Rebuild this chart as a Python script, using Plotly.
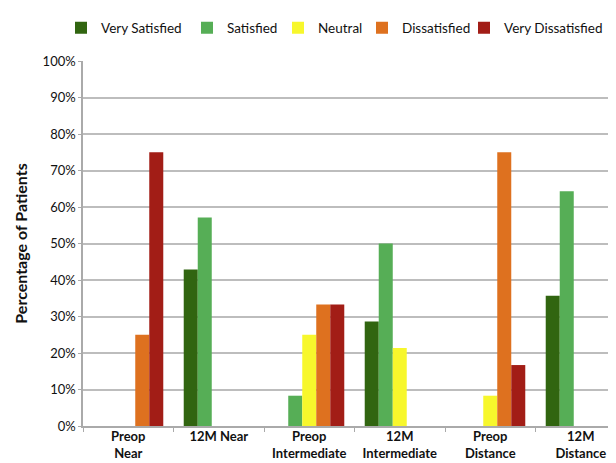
import plotly.graph_objects as go

categories = ["Preop<br>Near", "12M Near", "Preop<br>Intermediate", "12M<br>Intermediate", "Preop<br>Distance", "12M<br>Distance"]
very_satisfied = [0, 42.9, 0, 28.6, 0, 35.7]
satisfied = [0, 57.1, 8.3, 50.0, 0, 64.3]
neutral = [0, 0, 25.0, 21.4, 8.3, 0]
dissatisfied = [25.0, 0, 33.3, 0, 75.0, 0]
very_dissatisfied = [75.0, 0, 33.3, 0, 16.7, 0]
y_ticks = [0, 10, 20, 30, 40, 50, 60, 70, 80, 90, 100]
y_tick_labels = [f"{v}%" for v in y_ticks]

series = [
    ("Very Satisfied", very_satisfied, "#316510"),
    ("Satisfied", satisfied, "#56ae56"),
    ("Neutral", neutral, "#f7f72c"),
    ("Dissatisfied", dissatisfied, "#de711f"),
    ("Very Dissatisfied", very_dissatisfied, "#a21d16"),
]

FONT = "Lato"
W, H = 616, 463
ml, mr, mt, mb = 75, 0, 53, 45
pw = W - ml - mr
ph = H - mt - mb
cat_w = 90.5
x_range = [-0.5, -0.5 + pw / cat_w]

text_starts = [93, 219, 310, 394, 496]

fig = go.Figure()
layout_legends = {}
for i, (name, vals, col) in enumerate(series):
    lname = "legend" if i == 0 else f"legend{i+1}"
    fig.add_trace(go.Bar(x=list(range(len(categories))), y=vals, name=name, marker_color=col,
                         marker_line_width=0, legend=lname))
    layout_legends[lname] = dict(
        x=(text_starts[i] - 40 - ml) / pw, xanchor="left",
        y=1 + 33 / ph, yanchor="middle",
        font=dict(family=FONT, size=13.5, color="#111"),
        bgcolor="rgba(0,0,0,0)", borderwidth=0,
        itemwidth=30, tracegroupgap=0,
    )

fig.update_layout(
    width=W, height=H,
    margin=dict(l=ml, r=mr, t=mt, b=mb, pad=0),
    paper_bgcolor="white", plot_bgcolor="white",
    barmode="group", bargap=0.226, bargroupgap=0,
    font=dict(family=FONT, color="#111"),
    showlegend=True,
    **layout_legends,
)
fig.update_xaxes(
    range=x_range, tickmode="array", tickvals=list(range(len(categories))), ticktext=categories,
    showline=True, linecolor="#aaaaaa", linewidth=1.5,
    ticks="", showgrid=False, zeroline=False,
    tickfont=dict(family=FONT, size=13, color="#111", weight="bold"),
    ticklabelstandoff=-2,
    minor=dict(tickvals=[i + 0.5 for i in range(-1, len(categories))], ticks="outside",
               ticklen=4, tickcolor="#aaaaaa", showgrid=False),
)
fig.update_yaxes(
    range=[0, 100], tickvals=y_ticks, ticktext=y_tick_labels,
    showline=True, linecolor="#aaaaaa", linewidth=1.5,
    ticks="outside", ticklen=3, tickcolor="#aaaaaa",
    tickfont=dict(family=FONT, size=13, color="#111"),
    showgrid=True, gridcolor="#bdbdbd", gridwidth=1.5,
    title=dict(text="<b>Percentage of Patients</b>", font=dict(family=FONT, size=16, color="#111"), standoff=11),
    zeroline=False,
)

fig.write_html("out.html")
